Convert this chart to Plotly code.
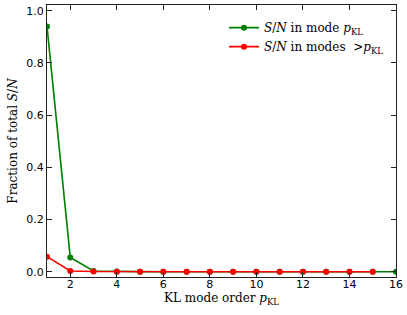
import plotly.graph_objects as go

modes = list(range(1, 17))
sn_in_mode = [0.940, 0.055, 0.003, 0.001, 0.0005, 0.0003, 0.0002, 0.0001, 0.0001, 0.0001, 0.0001, 0.0, 0.0, 0.0, 0.0, 0.0]
modes_gt = list(range(1, 16))
sn_in_higher = [0.058, 0.003, 0.0008, 0.0003, 0.0002, 0.0001, 0.0001, 0.0001, 0.0, 0.0, 0.0, 0.0, 0.0, 0.0, 0.0]

fig = go.Figure()
fig.add_trace(go.Scatter(x=modes, y=sn_in_mode, mode="lines+markers",
                         line=dict(color="#007f00", width=1.6),
                         marker=dict(color="#007f00", size=6),
                         name="<i>S</i>/<i>N</i> in mode <i>p</i><sub>KL</sub>"))
fig.add_trace(go.Scatter(x=modes_gt, y=sn_in_higher, mode="lines+markers",
                         line=dict(color="#ff0000", width=1.6),
                         marker=dict(color="#ff0000", size=6),
                         name="<i>S</i>/<i>N</i> in modes  &gt;<i>p</i><sub>KL</sub>"))

axis_common = dict(showline=True, linecolor="#222", linewidth=1.2, mirror="ticks",
                   ticks="inside", ticklen=5, tickcolor="#222", showgrid=False, zeroline=False,
                   automargin=False,
                   tickfont=dict(family="DejaVu Sans", size=11, color="#000"))
fig.update_xaxes(range=[1, 16], tickvals=[2, 4, 6, 8, 10, 12, 14, 16], ticklabelstandoff=-3,
                 title=dict(text="KL mode order <i>p</i><sub>KL</sub>",
                            font=dict(family="DejaVu Serif", size=12, color="#000"), standoff=0),
                 **axis_common)
fig.update_yaxes(range=[-0.02, 1.022], tickvals=[0, 0.2, 0.4, 0.6, 0.8, 1.0], tickformat=".1f",
                 title=dict(text="Fraction of total <i>S</i>/<i>N</i>",
                            font=dict(family="DejaVu Serif", size=12, color="#000"), standoff=6),
                 **axis_common)
fig.update_layout(width=407, height=315, paper_bgcolor="white", plot_bgcolor="white",
                  margin=dict(l=47, r=11, t=5, b=38),
                  legend=dict(x=0.98, y=0.97, xanchor="right", yanchor="top", itemwidth=30,
                              bgcolor="rgba(0,0,0,0)", borderwidth=0, tracegroupgap=2,
                              font=dict(family="DejaVu Serif", size=12, color="#000")),
                  showlegend=True)
fig.write_html("out.html", config={"displayModeBar": False})

with open("out.html", "r", encoding="utf-8") as f:
    html = f.read()
html = html.replace("<head>", "<head><style>html,body{margin:0;padding:0;overflow:hidden;}</style>", 1)
with open("out.html", "w", encoding="utf-8") as f:
    f.write(html)
